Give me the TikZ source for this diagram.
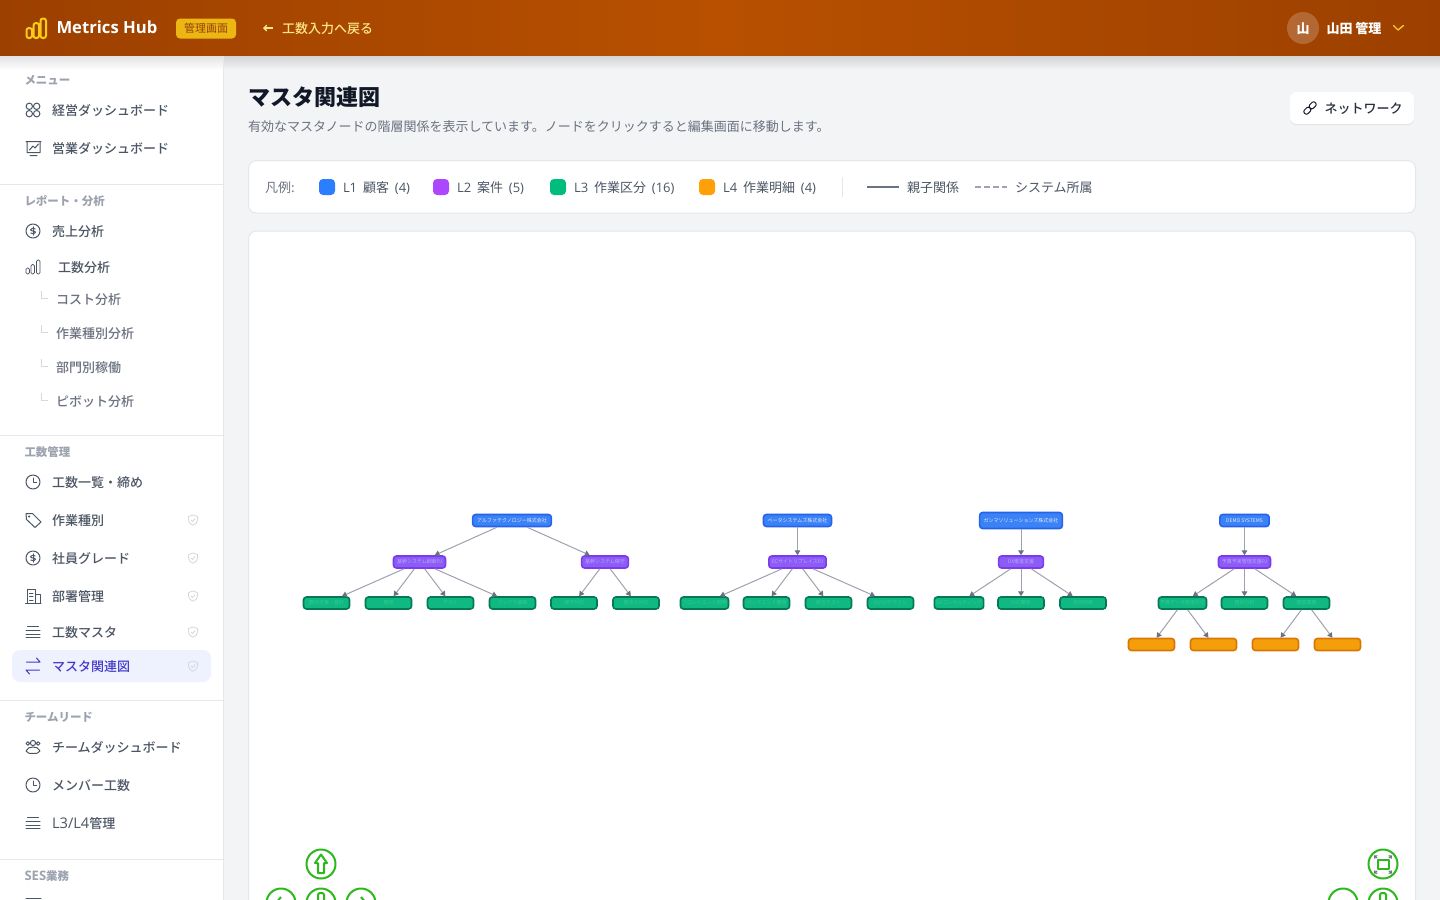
\documentclass[tikz,border=0pt]{standalone}
\usepackage{fontspec}
\setmainfont{Noto Sans CJK JP}
\newfontfamily\med{Noto Sans CJK JP Medium}
\newfontfamily\lat{Open Sans}
\newcommand{\lgap}{\hspace{4.4pt}}
\usetikzlibrary{arrows.meta}
\definecolor{hdrside}{HTML}{9C4000}
\definecolor{hdrmid}{HTML}{B85000}
\definecolor{hdryellow}{HTML}{FACC15}
\definecolor{hdrpale}{HTML}{FDE68A}
\definecolor{badgetext}{HTML}{92400E}
\definecolor{pagebg}{HTML}{F3F4F6}
\definecolor{rulegray}{HTML}{E5E7EB}
\definecolor{navtext}{HTML}{4B5563}
\definecolor{subtext}{HTML}{6B7280}
\definecolor{headtext}{HTML}{9CA3AF}
\definecolor{darktext}{HTML}{111827}
\definecolor{activebg}{HTML}{EEF2FF}
\definecolor{activetext}{HTML}{4338CA}
\definecolor{shieldgray}{HTML}{D5D8DD}
\definecolor{linegreen}{HTML}{2DB81E}
\definecolor{lonefill}{HTML}{3B82F6}
\definecolor{loneline}{HTML}{2563EB}
\definecolor{lonetext}{HTML}{E1EBFF}
\definecolor{ltwofill}{HTML}{8B5CF6}
\definecolor{ltwoline}{HTML}{7C3AED}
\definecolor{ltwotext}{HTML}{C0A4FF}
\definecolor{lthreefill}{HTML}{10B981}
\definecolor{lthreeline}{HTML}{047857}
\definecolor{lthreetext}{HTML}{35C896}
\definecolor{lfourfill}{HTML}{F59E0B}
\definecolor{lfourline}{HTML}{D97706}
\definecolor{swatchone}{HTML}{2B7FFF}
\definecolor{swatchtwo}{HTML}{AD46FF}
\definecolor{swatchthree}{HTML}{00BC7D}
\definecolor{swatchfour}{HTML}{FF9F0A}
\tikzset{
	txt/.style={anchor=west, inner sep=0pt},
	navitem/.style={txt, text=navtext, font=\med\fontsize{9.75}{12}\selectfont},
	navsub/.style={txt, text=subtext, font=\med\fontsize{9.75}{12}\selectfont},
	navhead/.style={txt, text=headtext, font=\bfseries\fontsize{8.6}{11}\selectfont},
	legendtxt/.style={txt, text=navtext, font=\fontsize{9.75}{12}\selectfont},
	icon/.style={draw=navtext, line width=0.75pt, line cap=round, line join=round},
	elbow/.style={draw=shieldgray, line width=0.75pt},
	swatch/.style={rounded corners=3pt},
	ctrl/.style={draw=linegreen, line width=1.5pt, line join=round},
	master/.style={
		draw,
		rectangle,
		rounded corners=2.2pt,
		line width=1.2pt,
		inner sep=0pt,
		minimum height=9pt,
		font=\fontsize{3.75}{4}\selectfont,
	},
	lone/.style={master, fill=lonefill, draw=loneline, text=lonetext},
	ltwo/.style={master, fill=ltwofill, draw=ltwoline, text=ltwotext},
	lthree/.style={master, minimum width=34.5pt, fill=lthreefill, draw=lthreeline, text=lthreetext},
	lfour/.style={master, minimum width=34.5pt, fill=lfourfill, draw=lfourline},
	parentof/.style={
		draw=headtext,
		line width=0.75pt,
		-{Triangle[angle=60:4.2pt 0, color=subtext]}
	},
	clockicon/.pic={
		\draw[icon] (0,0) circle (7);
		\draw[icon] (0,-4) -- (0,0) -- (3.6,0);
	},
	dollaricon/.pic={
		\draw[icon] (0,0) circle (7);
		\draw[icon] (2.2,-2) .. controls (1,-3.2) and (-2.5,-3) .. (-2.5,-1.3) .. controls (-2.5,0.5) and (2.5,-0.5) .. (2.5,1.3) .. controls (2.5,3) and (-1,3.2) .. (-2.2,2);
		\draw[icon] (0,-4.2) -- (0,4.2);
	},
	stackicon/.pic={
		\draw[icon] (-5.5,-5.5) -- (5.5,-5.5) (-7,-2) -- (7,-2) (-7,2) -- (7,2) (-7,5.5) -- (7,5.5);
	},
	shieldicon/.pic={
		\draw[draw=shieldgray, line width=0.6pt, line join=round] (0,-5) -- (4.6,-3.4) -- (4.6,0) .. controls (4.6,2.8) and (2,4.4) .. (0,5.2) .. controls (-2,4.4) and (-4.6,2.8) .. (-4.6,0) -- (-4.6,-3.4) -- cycle;
		\draw[draw=shieldgray, line width=0.6pt] (-2,0) -- (-0.5,1.5) -- (2.2,-1.5);
	},
}
\begin{document}
\begin{tikzpicture}[x=0.75pt, y=-0.75pt, line width=0.75pt]
	\useasboundingbox (0,0) rectangle (1440,900);
	\clip (0,0) rectangle (1440,900);

	% page and sidebar
	\fill[pagebg] (0,0) rectangle (1440,900);
	\fill[white] (0,56) rectangle (223,900);
	\draw[rulegray] (223.5,56) -- (223.5,900);
	\shade[top color=black!11, bottom color=white] (0,56) rectangle (223,70);
	\shade[top color=black!17, bottom color=pagebg] (224,56) rectangle (1440,70);

	% header
	\shade[left color=hdrside, right color=hdrside, middle color=hdrmid] (0,0) rectangle (1440,55.6);
	\draw[hdryellow, line width=1.5pt, rounded corners=1.8pt] (26.5,28) rectangle (32,38) (33.5,23) rectangle (39,38) (40.5,18.5) rectangle (46,38);
	\node[txt, text=white, font=\lat\bfseries\fontsize{12.5}{16}\selectfont] (brand) at (56,27.5) {Metrics Hub};
	\node[fill=hdryellow!85!hdrside, rounded corners=3pt, minimum width=45pt, minimum height=15pt, inner sep=0pt, text=badgetext, font=\fontsize{8.25}{10}\selectfont] (adminbadge) at (206,28.5) {管理画面};
	\coordinate (backtail) at (273,28);
	\coordinate (backtip) at (263,28);
	\draw[hdrpale, -{Straight Barb[angle=90:3pt 0]}, line width=1pt] (backtail) -- (backtip);
	\node[txt, text=hdrpale, font=\med\fontsize{9.75}{12}\selectfont] (backlink) at (281.5,28.6) {工数入力へ戻る};
	\node[circle, fill=white, fill opacity=0.2, minimum size=24pt, inner sep=0pt] (avatar) at (1303,28) {};
	\node[text=white, font=\bfseries\fontsize{9.75}{12}\selectfont, inner sep=0pt] (avatartext) at (1303,28.6) {山};
	\node[txt, text=white, font=\bfseries\fontsize{9.75}{12}\selectfont] (username) at (1326,28.6) {山田 管理};
	\draw[hdryellow, line width=1pt, line cap=round, line join=round] (1393.5,25.5) -- (1398,30) -- (1403.5,25.5);

	% sidebar texts
	\node[navhead] (menuhead) at (24,80) {メニュー};
	\node[navitem] (execdash) at (51.5,110.5) {経営ダッシュボード};
	\node[navitem] (salesdash) at (51.5,148.5) {営業ダッシュボード};
	\draw[rulegray] (0,184.5) -- (223,184.5);
	\node[navhead] (reporthead) at (24,201) {レポート・分析};
	\node[navitem] (salesan) at (51.5,231.5) {売上分析};
	\node[navitem] (hoursan) at (57.5,267.5) {工数分析};
	\node[navsub] (costan) at (55.5,299.5) {コスト分析};
	\node[navsub] (workan) at (55.5,333.5) {作業種別分析};
	\node[navsub] (deptan) at (55.5,367.5) {部門別稼働};
	\node[navsub] (pivotan) at (55.5,401.5) {ピボット分析};
	\draw[rulegray] (0,435.5) -- (223,435.5);
	\node[navhead] (hourshead) at (24,452) {工数管理};
	\node[navitem] (hourlist) at (51.5,482.5) {工数一覧・締め};
	\node[navitem] (worktype) at (51.5,520.5) {作業種別};
	\node[navitem] (grade) at (51.5,558.5) {社員グレード};
	\node[navitem] (dept) at (51.5,596.5) {部署管理};
	\node[navitem] (hourmaster) at (51.5,632.5) {工数マスタ};
	\fill[activebg, rounded corners=6pt] (12,650) rectangle (211,682);
	\node[navitem, text=activetext] (masterrel) at (51.5,666.5) {マスタ関連図};
	\draw[rulegray] (0,700.5) -- (223,700.5);
	\node[navhead] (teamhead) at (24,717) {チームリード};
	\node[navitem] (teamdash) at (51.5,747.5) {チームダッシュボード};
	\node[navitem] (memberhours) at (51.5,785.5) {メンバー工数};
	\node[navitem] (levelmgmt) at (51.5,823.5) {{\lat\fontsize{11}{12}\selectfont L3/L4}管理};
	\draw[rulegray] (0,859.5) -- (223,859.5);
	\node[navhead] (seshead) at (24,876) {{\lat\fontsize{9.8}{11}\selectfont SES}業務};

	% sidebar icons
	\draw[icon] (29.3,106.3) circle (3.2) (36.7,106.3) circle (3.2) (29.3,113.7) circle (3.2) (36.7,113.7) circle (3.2);
	\draw[icon] (26,141.5) -- (41,141.5) (27,141.5) -- (27,152.5) -- (40,152.5) -- (40,141.5) (29.5,150) -- (33,146) -- (35,148) -- (38.5,144) (30,155.5) -- (37,155.5);
	\pic at (33,231) {dollaricon};
	\draw[icon, line width=0.6pt, rounded corners=1pt] (26,268) rectangle (29.5,274) (31,264.5) rectangle (34.5,274) (36.5,260) rectangle (40,274);
	\draw[elbow] (41,291) -- (41,298) -- (48,298);
	\draw[elbow] (41,325) -- (41,332) -- (48,332);
	\draw[elbow] (41,359) -- (41,366) -- (48,366);
	\draw[elbow] (41,393) -- (41,400) -- (48,400);
	\pic at (33,482) {clockicon};
	\draw[icon] (26,513.5) -- (32.5,513.5) -- (41,522) -- (35,527.5) -- (26.5,519.5) -- cycle (29.2,516.5) circle (0.6);
	\pic at (33,558) {dollaricon};
	\draw[icon] (25.5,603) -- (41,603) (27,603) -- (27,589.5) -- (35.5,589.5) -- (35.5,603) (35.5,594.5) -- (40,594.5) -- (40,603) (29.5,593) -- (33,593) (29.5,596.5) -- (33,596.5) (29.5,600) -- (33,600);
	\pic at (33,632) {stackicon};
	\draw[icon, draw=activetext] (26.5,662) -- (40,662) (36.5,658) -- (40,662) (26,670) -- (39.5,670) (26,670) -- (29.5,674);
	\draw[icon] (33,743) circle (2.6) (27.8,743.5) circle (1.8) (38.2,743.5) circle (1.8) (26,751) .. controls (27,748) and (30,747) .. (33,747) .. controls (36,747) and (39,748) .. (40,751) .. controls (39,753.5) and (36,753.5) .. (33,753.5) .. controls (30,753.5) and (27,753.5) .. (26,751);
	\pic at (33,785) {clockicon};
	\pic at (33,823) {stackicon};
	\draw[icon] (26,898.5) -- (41,898.5);
	\pic at (193,520) {shieldicon};
	\pic at (193,558) {shieldicon};
	\pic at (193,596) {shieldicon};
	\pic at (193,632) {shieldicon};
	\pic at (193,666) {shieldicon};

	% page title
	\node[txt, text=darktext, font=\bfseries\fontsize{16.5}{20}\selectfont] (pagetitle) at (248,97) {マスタ関連図};
	\node[txt, text=subtext, font=\fontsize{9.75}{12}\selectfont] (pagesub) at (247.5,127) {有効なマスタノードの階層関係を表示しています。ノードをクリックすると編集画面に移動します。};

	% network button
	\fill[black!12, rounded corners=5pt] (1290,93) rectangle (1414,125);
	\fill[white, rounded corners=5pt] (1290,92) rectangle (1414,124);
	\draw[icon, draw=darktext, rounded corners=1.5pt, rotate around={45:(1310,108)}] (1302.5,105.5) rectangle (1309.8,110.5) (1310.2,105.5) rectangle (1317.5,110.5);
	\node[txt, text=darktext!90, font=\med\fontsize{9.75}{12}\selectfont] (netbutton) at (1324,108.5) {ネットワーク};

	% legend card
	\filldraw[fill=white, draw=rulegray, rounded corners=6pt] (248.5,160.5) rectangle (1415.5,213);
	\node[legendtxt, text=subtext] (legendhead) at (264.5,188) {凡例:};
	\fill[swatch, swatchone] (319,179) rectangle (335,195);
	\node[legendtxt] (legendone) at (342.5,188) {{\lat L1}\lgap 顧客\lgap{\lat (4)}};
	\fill[swatch, swatchtwo] (433,179) rectangle (449,195);
	\node[legendtxt] (legendtwo) at (456.5,188) {{\lat L2}\lgap 案件\lgap{\lat (5)}};
	\fill[swatch, swatchthree] (550,179) rectangle (566,195);
	\node[legendtxt] (legendthree) at (573.5,188) {{\lat L3}\lgap 作業区分\lgap{\lat (16)}};
	\fill[swatch, swatchfour] (699,179) rectangle (715,195);
	\node[legendtxt] (legendfour) at (722.5,188) {{\lat L4}\lgap 作業明細\lgap{\lat (4)}};
	\draw[rulegray] (842.5,177) -- (842.5,197);
	\draw[subtext, line width=1.5pt] (867,187) -- (899,187);
	\node[legendtxt] (legendsolid) at (906.5,188) {親子関係};
	\draw[headtext, line width=1.5pt, dash pattern=on 4.5pt off 2.25pt] (975,187) -- (1007,187);
	\node[legendtxt] (legenddash) at (1014.5,188) {システム所属};

	% diagram card
	\filldraw[fill=white, draw=rulegray, rounded corners=6pt] (248.5,231) rectangle (1415.5,920);

	% L1
	\node[lone, minimum width=59pt] (alpha) at (512,520.5) {アルファテクノロジー株式会社};
	\node[lone, minimum width=51pt] (beta) at (797.5,520.5) {ベータシステムズ株式会社};
	\node[lone, minimum width=62pt, minimum height=12pt] (gamma) at (1021,520.5) {ガンマソリューションズ株式会社};
	\node[lone, minimum width=37pt] (demo) at (1244.5,520.5) {DEMO SYSTEMS};

	% L2
	\node[ltwo, minimum width=39pt] (renewal) at (419.5,562) {基幹システム刷新PJ};
	\node[ltwo, minimum width=35pt] (upkeep) at (605,562) {基幹システム保守};
	\node[ltwo, minimum width=43pt] (ecsite) at (797.5,562) {ECサイトリプレイスPJ};
	\node[ltwo, minimum width=33.5pt] (dxsup) at (1021,562) {DX推進支援};
	\node[ltwo, minimum width=39pt] (budget) at (1244.5,562) {予算予実管理支援PJ};

	% L3
	\node[lthree] (reqdef) at (326.5,603) {要件定義・設計};
	\node[lthree] (devel) at (388.5,603) {開発};
	\node[lthree] (testing) at (450.5,603) {テスト};
	\node[lthree] (infra) at (512.5,603) {インフラ構築};
	\node[lthree] (maint) at (574,603) {保守対応};
	\node[lthree] (inquiry) at (636,603) {問合せ対応};
	\node[lthree, minimum width=36pt] (front) at (704.5,603) {フロントエンド開発};
	\node[lthree] (back) at (766.5,603) {バックエンド開発};
	\node[lthree] (integ) at (828.5,603) {統合テスト};
	\node[lthree] (design) at (890.5,603) {UI/UXデザイン};
	\node[lthree, minimum width=37pt] (consult) at (959,603) {DXコンサルティング};
	\node[lthree] (poc) at (1021,603) {PoC開発};
	\node[lthree] (train) at (1083,603) {技術研修};
	\node[lthree, minimum width=36pt] (budgetdata) at (1182.5,603) {予算データ取得対応};
	\node[lthree] (dataan) at (1244.5,603) {現状分析};
	\node[lthree] (survey) at (1306.5,603) {調査業務};

	% L4
	\node[lfour] (taskone) at (1151.5,644.5) {};
	\node[lfour] (tasktwo) at (1213.5,644.5) {};
	\node[lfour] (taskthree) at (1275.5,644.5) {};
	\node[lfour] (taskfour) at (1337.5,644.5) {};

	\draw[parentof] (alpha) -- (renewal);
	\draw[parentof] (alpha) -- (upkeep);
	\draw[parentof] (beta) -- (ecsite);
	\draw[parentof] (gamma) -- (dxsup);
	\draw[parentof] (demo) -- (budget);

	\draw[parentof] (renewal) -- (reqdef);
	\draw[parentof] (renewal) -- (devel);
	\draw[parentof] (renewal) -- (testing);
	\draw[parentof] (renewal) -- (infra);
	\draw[parentof] (upkeep) -- (maint);
	\draw[parentof] (upkeep) -- (inquiry);
	\draw[parentof] (ecsite) -- (front);
	\draw[parentof] (ecsite) -- (back);
	\draw[parentof] (ecsite) -- (integ);
	\draw[parentof] (ecsite) -- (design);
	\draw[parentof] (dxsup) -- (consult);
	\draw[parentof] (dxsup) -- (poc);
	\draw[parentof] (dxsup) -- (train);
	\draw[parentof] (budget) -- (budgetdata);
	\draw[parentof] (budget) -- (dataan);
	\draw[parentof] (budget) -- (survey);

	\draw[parentof] (budgetdata) -- (taskone);
	\draw[parentof] (budgetdata) -- (tasktwo);
	\draw[parentof] (survey) -- (taskthree);
	\draw[parentof] (survey) -- (taskfour);

	% view controls
	\draw[ctrl] (321,864) circle (14.5);
	\draw[ctrl] (321,854.5) -- (327,863) -- (324,863) -- (324,873) -- (318,873) -- (318,863) -- (315,863) -- cycle;
	\draw[ctrl] (281,903) circle (14.5);
	\draw[ctrl] (281,897) -- (276,903) -- (281,909);
	\draw[ctrl] (321,903) circle (14.5);
	\draw[ctrl] (318,897) -- (318,894.5) -- (319.5,893) -- (322.5,893) -- (324,894.5) -- (324,903) -- (318,903) -- cycle;
	\draw[ctrl] (361,903) circle (14.5);
	\draw[ctrl] (361,897) -- (366,903) -- (361,909);
	\draw[ctrl] (1383,864) circle (14.5);
	\draw[ctrl] (1377.5,860) rectangle (1388.5,869);
	\draw[subtext, line width=0.9pt, -{Straight Barb[angle=90:2pt 0]}] (1377,858) -- (1374,855.5);
	\draw[subtext, line width=0.9pt, -{Straight Barb[angle=90:2pt 0]}] (1389,858) -- (1392,855.5);
	\draw[subtext, line width=0.9pt, -{Straight Barb[angle=90:2pt 0]}] (1377,871) -- (1374,873.5);
	\draw[subtext, line width=0.9pt, -{Straight Barb[angle=90:2pt 0]}] (1389,871) -- (1392,873.5);
	\draw[ctrl] (1343,903) circle (14.5);
	\draw[ctrl] (1383,903) circle (14.5);
	\draw[ctrl] (1380,897) -- (1380,894.5) -- (1381.5,893) -- (1384.5,893) -- (1386,894.5) -- (1386,903) -- (1380,903) -- cycle;
\end{tikzpicture}
\end{document}
